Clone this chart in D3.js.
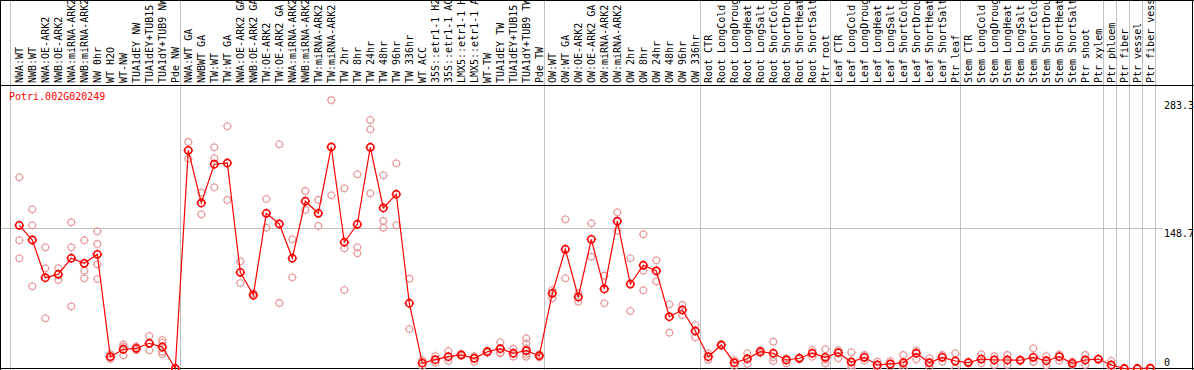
<!DOCTYPE html>
<html>
<head>
<meta charset="utf-8">
<script src="https://d3js.org/d3.v7.min.js"></script>
<style>
    html, body { margin: 0; padding: 0; background: #fff; }
    svg { display: block; }
    text { font-family: "DejaVu Sans Mono", monospace; font-size: 10px; }
</style>
</head>
<body>
<div id="chart"></div>
<script>
var geneId = 'Potri.002G020249';

var samples = [
    'NWA:WT', 'NWB:WT', 'NWA:OE-ARK2', 'NWB:OE-ARK2', 'NWA:miRNA-ARK2', 'NWB:miRNA-ARK2',
    'NW 0hr', 'WT H2O', 'WT-NW', 'TUA1dEY NW', 'TUA1dEY+TUB15 NW', 'TUA1dY+TUB9 NW', 'Pde NW',
    'NWA:WT GA', 'NWBWT GA', 'TW:WT', 'TW:WT GA', 'NWA:OE-ARK2 GA', 'NWB:OE-ARK2 GA',
    'TW:OE-ARK2', 'TW:OE-ARK2 GA', 'NWA:miRNA-ARK2', 'NWB:miRNA-ARK2', 'TW:miRNA-ARK2', 'TW:miRNA-ARK2',
    'TW 2hr', 'TW 8hr', 'TW 24hr', 'TW 48hr', 'TW 96hr', 'TW 336hr', 'WT ACC',
    '35S::etr1-1 H2O', '35S::etr1-1 ACC', 'LMX5::etr1-1 H2O', 'LMX5::etr1-1 ACC',
    'WT-TW', 'TUA1dEY TW', 'TUA1dEY+TUB15 TW', 'TUA1dY+TUB9 TW', 'Pde TW',
    'OW:WT', 'OW:WT GA', 'OW:OE-ARK2', 'OW:OE-ARK2 GA', 'OW:miRNA-ARK2', 'OW:miRNA-ARK2',
    'OW 2hr', 'OW 8hr', 'OW 24hr', 'OW 48hr', 'OW 96hr', 'OW 336hr',
    'Root CTR', 'Root LongCold', 'Root LongDrought', 'Root LongHeat', 'Root LongSalt',
    'Root ShortCold', 'Root ShortDrought', 'Root ShortHeat', 'Root ShortSalt', 'Ptr root',
    'Leaf CTR', 'Leaf LongCold', 'Leaf LongDrought', 'Leaf LongHeat', 'Leaf LongSalt',
    'Leaf ShortCold', 'Leaf ShortDrought', 'Leaf ShortHeat', 'Leaf ShortSalt', 'Ptr leaf',
    'Stem CTR', 'Stem LongCold', 'Stem LongDrought', 'Stem LongHeat', 'Stem LongSalt',
    'Stem ShortCold', 'Stem ShortDrought', 'Stem ShortHeat', 'Stem ShortSalt', 'Ptr shoot',
    'Ptr xylem', 'Ptr phloem', 'Ptr fiber', 'Ptr vessel', 'Ptr fiber vessel'
];

var means = [
    151.2, 135.7, 95.9, 99.5, 116.4, 111.1, 120.6, 12.5, 20.3, 21.3, 26.6, 22.7, 0,
    230.4, 174.8, 215.7, 217.0, 101.6, 77.6, 163.9, 152.6, 116.4, 176.6, 163.9, 233.9,
    133.3, 152.3, 233.6, 169.5, 184.0, 68.9, 5.8, 9.3, 12.5, 14.3, 10.8, 17.7, 20.9, 16.1, 18.8, 13.5,
    79.4, 125.9, 75.5, 136.4, 84.0, 155.5, 89.2, 109.0, 103.0, 54.7, 61.8, 39.6,
    12.5, 24.8, 6.1, 10.3, 17.7, 16.1, 9.0, 10.8, 16.1, 11.8,
    16.7, 6.9, 11.8, 3.7, 4.8, 6.1, 16.1, 6.1, 11.8, 7.9,
    6.3, 10.0, 9.0, 9.0, 8.7, 11.8, 8.2, 12.5, 5.5, 9.0,
    10.0, 3.7, 0, 0, 0.3
];

var replicates = [
    [201.9, 135.4, 116.4], [168.1, 151.2, 86.8], [128.0, 105.8, 53.0], [106.1, 93.5],
    [154.4, 128.0, 65.7], [135.4, 103.3, 95.3], [144.9, 131.5, 110.0, 94.5], [15.3, 12.2, 10.0],
    [25.6, 23.0, 13.9], [23.2, 21.3, 19.5], [34.3, 26.6, 19.2], [30.1, 27.2, 17.7, 15.3], [0.5, 0, 0],
    [239.2, 221.6], [185.7, 162.8], [233.6, 222.0, 191.4], [255.8, 178.0], [113.2, 90.3],
    [79.4, 76.6], [179.0, 148.7], [236.8, 69.2], [136.4, 96.3], [187.5, 167.4], [178.0, 150.5],
    [283.3, 182.9], [190.3, 126.9, 82.9], [205.1, 128.0, 121.7], [262.4, 252.6, 185.0],
    [204.0, 155.8, 148.7], [216.7, 151.2], [94.8, 41.7], [9.0, 2.6], [13.2, 6.1], [18.5, 7.9],
    [15.3, 13.2], [13.2, 7.2], [18.8, 16.7], [27.7, 16.7, 16.1], [20.9, 12.5],
    [31.9, 26.6, 21.3, 15.3, 12.5], [15.0, 13.5, 12.0],
    [82.9, 74.1], [157.6, 95.3], [79.4, 70.5], [153.3, 118.1], [98.0, 68.9], [165.0, 145.5],
    [116.4, 60.7], [141.7, 103.3, 82.6], [114.3, 92.1], [67.8, 37.8], [67.1, 56.5], [45.9, 32.9],
    [16.1, 9.0], [25.5, 24.0], [9.0, 2.6], [16.1, 4.8], [19.5, 16.1], [28.3, 12.0, 7.9],
    [10.8, 5.5], [11.5, 10.0], [19.5, 12.5], [20.3, 9.6, 5.5],
    [19.5, 10.8], [17.1, 3.5, 0.2], [14.3, 8.2], [7.2, 0.2], [7.9, 1.9], [14.3, 4.0, 0.2],
    [18.8, 9.7], [10.8, 1.9], [14.3, 7.2], [16.1, 0],
    [7.0, 5.8], [15.0, 5.5], [13.0, 3.7], [14.3, 3.7], [9.5, 8.0], [21.3, 7.2, 7.0],
    [13.2, 3.4], [15.0, 8.2], [7.2, 3.8], [14.3, 3.7],
    [10.5, 9.5], [8.2, 0], [0, 0], [0, 0], [0.5, 0]
];

// index of the last sample in each group, a grey rule follows it
var groupEnds = [12, 40, 52, 62, 72, 83, 84, 85, 86, 87];
var yTicks = [0, 148.7, 283.3];
var gridTicks = [148.7];

var width = 1194,
    height = 370,
    headerBottom = 85.5,
    plotRight = 1163,
    frameRight = 1192.5;

var x = d3.scaleLinear()
    .domain([0, samples.length - 1])
    .range([19.3, 19.3 + 13 * (samples.length - 1)]);

var y = d3.scaleLinear()
    .domain([0, 283.3])
    .range([368.5, 100.2]);

var svg = d3.select('#chart')
    .append('svg')
    .attr('width', width)
    .attr('height', height);

/* grey group separators, full height */
var rules = [x(0) - 9].concat(groupEnds.map(function (i) { return x(i) + 5; }));
svg.append('g')
    .selectAll('line')
    .data(rules)
    .join('line')
    .attr('x1', function (d) { return Math.round(d) + 0.5; })
    .attr('x2', function (d) { return Math.round(d) + 0.5; })
    .attr('y1', 0)
    .attr('y2', height)
    .attr('stroke', '#c0c0c0')
    .attr('stroke-width', 1);

/* horizontal grid */
svg.append('g')
    .selectAll('line')
    .data(gridTicks)
    .join('line')
    .attr('x1', 0)
    .attr('x2', plotRight)
    .attr('y1', function (d) { return Math.round(y(d)) + 0.5; })
    .attr('y2', function (d) { return Math.round(y(d)) + 0.5; })
    .attr('stroke', '#c0c0c0');

/* frame */
var frame = svg.append('g').attr('stroke', '#000').attr('stroke-width', 1).attr('fill', 'none')
    .attr('shape-rendering', 'crispEdges');
frame.append('line').attr('x1', 0.5).attr('x2', 0.5).attr('y1', 0).attr('y2', height);
frame.append('line').attr('x1', frameRight).attr('x2', frameRight).attr('y1', 0).attr('y2', height);
frame.append('line').attr('x1', 0).attr('x2', width).attr('y1', 0.5).attr('y2', 0.5);
frame.append('line').attr('x1', 0).attr('x2', width).attr('y1', headerBottom).attr('y2', headerBottom);
frame.append('line').attr('x1', 0).attr('x2', width).attr('y1', 368.5).attr('y2', 368.5);

/* sample labels, rotated */
svg.append('g')
    .selectAll('text')
    .data(samples)
    .join('text')
    .attr('transform', function (d, i) {
        return 'translate(' + (x(i) + 3.6) + ',' + 83 + ') rotate(-90)';
    })
    .attr('fill', '#000')
    .text(function (d) { return d; });

/* gene id */
svg.append('text')
    .attr('x', 9)
    .attr('y', 100)
    .attr('fill', '#ff0000')
    .text(geneId);

/* y tick labels */
svg.append('g')
    .selectAll('text')
    .data(yTicks)
    .join('text')
    .attr('x', 1164)
    .attr('y', function (d) { return Math.min(y(d) + 9, 365.5); })
    .attr('fill', '#000')
    .text(function (d) { return d; });

function marker(cx, cy, r) {
    return 'M' + (cx - r - 1.2) + ',' + cy + 'h1.6' +
        'M' + (cx + r - 0.4) + ',' + cy + 'h1.6' +
        'M' + cx + ',' + (cy - r - 1.2) + 'v1.6' +
        'M' + cx + ',' + (cy + r - 0.4) + 'v1.6';
}

/* replicate points */
var reps = [];
replicates.forEach(function (vals, i) {
    vals.forEach(function (v) { reps.push({ i: i, v: v }); });
});

var repG = svg.append('g').attr('stroke', '#e89a9a').attr('fill', 'none');
repG.selectAll('circle')
    .data(reps)
    .join('circle')
    .attr('cx', function (d) { return x(d.i); })
    .attr('cy', function (d) { return y(d.v); })
    .attr('r', 3.3)
    .attr('stroke-width', 1.1);
repG.selectAll('path')
    .data(reps)
    .join('path')
    .attr('d', function (d) { return marker(x(d.i), y(d.v), 3.3); })
    .attr('stroke-width', 1);

/* mean line */
var line = d3.line()
    .x(function (d, i) { return x(i); })
    .y(function (d) { return y(d); });

svg.append('path')
    .datum(means)
    .attr('d', line)
    .attr('fill', 'none')
    .attr('stroke', '#ff0000')
    .attr('stroke-width', 1.2);

var meanG = svg.append('g').attr('stroke', '#ff0000').attr('fill', 'none');
meanG.selectAll('circle')
    .data(means)
    .join('circle')
    .attr('cx', function (d, i) { return x(i); })
    .attr('cy', function (d) { return y(d); })
    .attr('r', 3.6)
    .attr('stroke-width', 1.6);
meanG.selectAll('path')
    .data(means)
    .join('path')
    .attr('d', function (d, i) { return marker(x(i), y(d), 3.6); })
    .attr('stroke-width', 1.2);
</script>
</body>
</html>
